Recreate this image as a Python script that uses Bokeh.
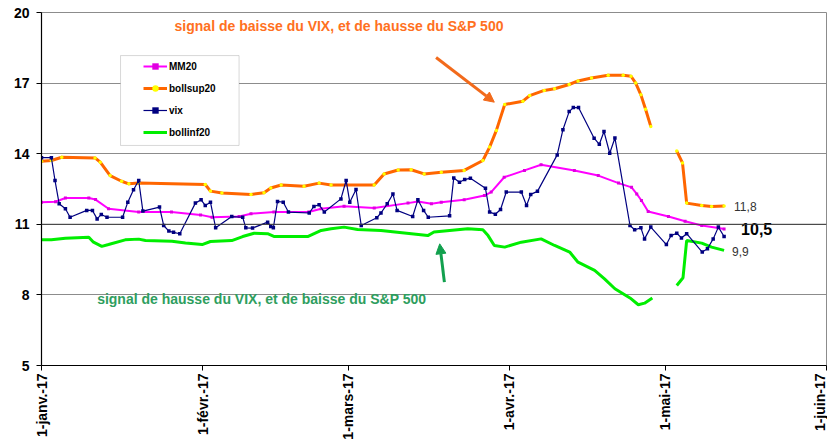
import numpy as np
from bokeh.plotting import figure
from bokeh.models import (Range1d, FixedTicker, Legend, LegendItem, Span, Arrow,
                          NormalHead, BoxAnnotation, Label)
from bokeh.core.properties import value
from bokeh.embed import file_html
from bokeh.resources import INLINE

FONT = "Liberation Sans"
nan = float("nan")

# ---- axis ticks / labels ----
month_ticks = [0, 31, 59, 90, 120, 151]
month_labels = ["1-janv.-17", "1-févr.-17", "1-mars-17", "1-avr.-17", "1-mai-17", "1-juin-17"]
y_ticks = [5, 8, 11, 14, 17, 20]

# ---- series (x = days since 1 Jan 2017) ----
vix_day = [0.0, 1.9, 2.6, 3.4, 4.6, 5.5, 8.7, 9.8, 10.7, 11.5, 12.6, 15.6, 16.6, 17.7, 18.7,
           19.5, 22.7, 23.5, 24.5, 25.4, 26.6, 29.6, 30.7, 31.5, 32.5, 33.5, 36.6, 38.7, 39.3,
           40.6, 43.5, 44.1, 44.6, 45.4, 46.5, 47.5, 51.5, 52.4, 53.4, 54.4, 57.6, 58.6, 59.3,
           60.5, 61.5, 64.5, 65.3, 66.5, 67.6, 68.4, 71.4, 72.4, 73.5, 74.4, 78.5, 79.3, 80.4,
           81.4, 82.5, 85.4, 86.2, 87.3, 88.3, 89.4, 92.3, 93.3, 94.1, 95.4, 99.2, 100.3, 101.5,
           102.3, 103.3, 106.3, 107.3, 108.2, 109.3, 110.3, 113.2, 114.1, 115.3, 116.0, 117.2,
           120.2, 121.1, 122.2, 123.1, 124.1, 127.1, 128.1, 129.2, 130.2, 131.3]
vix_val = [13.83, 13.83, 12.86, 11.87, 11.66, 11.30, 11.59, 11.59, 11.23, 11.42, 11.30, 11.30,
           11.94, 12.47, 12.86, 11.56, 11.73, 10.95, 10.71, 10.66, 10.60, 11.90, 12.04, 11.80,
           11.94, 10.85, 11.33, 11.30, 10.85, 10.84, 11.09, 10.91, 10.85, 11.97, 11.94, 11.52,
           11.48, 11.76, 11.83, 11.52, 12.08, 12.86, 11.94, 12.48, 10.95, 11.28, 11.48, 11.87,
           12.29, 11.59, 11.33, 12.04, 11.59, 11.30, 11.36, 12.97, 12.79, 12.90, 12.96, 12.53,
           11.52, 11.43, 11.63, 12.37, 12.37, 11.80, 12.27, 12.40, 13.95, 15.02, 15.79, 15.96,
           15.96, 14.66, 14.40, 14.94, 14.02, 14.67, 10.95, 10.77, 10.85, 10.38, 10.88, 10.14,
           10.52, 10.62, 10.42, 10.60, 9.82, 9.96, 10.38, 10.88, 10.48]

mm20_day = [0.0, 2.7, 4.6, 9.1, 10.4, 12.9, 18.7, 25.0, 30.6, 32.8, 38.0, 40.3, 44.7, 51.4, 53.8,
            58.2, 64.0, 70.5, 72.4, 75.0, 76.9, 81.3, 85.2, 86.5, 89.0, 92.9, 96.1, 102.5, 107.1,
            111.0, 113.5, 114.5, 115.4, 116.7, 120.6, 123.8, 127.0, 130.2, 131.3]
mm20_val = [11.94, 11.96, 12.12, 12.12, 12.05, 11.66, 11.52, 11.52, 11.40, 11.30, 11.33, 11.45,
            11.52, 11.52, 11.66, 11.77, 11.69, 11.90, 11.97, 11.87, 11.94, 12.04, 12.22, 12.37,
            13.00, 13.29, 13.53, 13.29, 13.07, 12.75, 12.57, 12.29, 12.01, 11.54, 11.33, 11.13,
            10.95, 10.84, 10.80]

bollsup_day = [0.0, 1.9, 3.9, 10.3, 11.3, 13.2, 15.4, 16.8, 18.7, 31.5, 32.5, 34.7, 40.3, 42.8,
               44.1, 46.1, 50.5, 53.4, 55.7, 64.0, 65.9, 68.6, 71.1, 73.6, 76.9, 81.3, 84.9, 86.2,
               87.5, 89.1, 92.6, 93.9, 96.7, 98.7, 101.5, 103.2, 105.8, 109.0, 111.9, 113.4,
               114.3, 115.3, 116.2, 117.2, 119.5, 122.2, 123.3, 124.1, 127.0, 128.9, 131.3]
bollsup_val = [13.68, 13.71, 13.85, 13.82, 13.64, 13.07, 12.83, 12.72, 12.75, 12.69, 12.41, 12.33,
               12.27, 12.34, 12.54, 12.67, 12.62, 12.75, 12.67, 12.67, 13.14, 13.31, 13.32, 13.14,
               13.21, 13.29, 13.71, 14.28, 14.99, 16.09, 16.23, 16.47, 16.69, 16.76, 16.94, 17.09,
               17.22, 17.33, 17.33, 17.29, 17.00, 16.50, 15.89, 15.16, nan, 14.11, 13.61, 11.90,
               11.80, 11.76, 11.78]

bollinf_day = [0.0, 1.9, 4.6, 9.1, 10.0, 11.6, 12.9, 16.1, 18.7, 20.0, 25.1, 27.7, 30.9, 32.5,
               36.6, 38.7, 40.9, 43.5, 44.8, 51.2, 53.8, 55.7, 58.2, 60.8, 65.3, 74.3, 75.5, 82.0,
               84.9, 85.9, 87.1, 89.1, 92.3, 96.1, 98.7, 101.6, 103.2, 106.4, 108.3, 110.3, 113.2,
               114.8, 116.0, 117.5, 119.5, 122.2, 123.4, 124.1, 127.0, 128.9, 131.3]
bollinf_val = [10.34, 10.34, 10.41, 10.45, 10.24, 10.06, 10.14, 10.34, 10.37, 10.31, 10.28, 10.21,
               10.14, 10.27, 10.31, 10.48, 10.62, 10.60, 10.48, 10.48, 10.74, 10.81, 10.88, 10.78,
               10.74, 10.52, 10.67, 10.81, 10.77, 10.52, 10.10, 10.03, 10.24, 10.38, 10.10, 9.82,
               9.39, 9.04, 8.68, 8.26, 7.87, 7.58, 7.65, 7.87, nan, 8.40, 8.73, 10.31, 10.20,
               10.03, 9.89]

# ---- figure ----
p = figure(width=827, height=443, output_backend="svg", toolbar_location=None,
           x_range=Range1d(0, 151), y_range=Range1d(5, 20),
           min_border_left=41, min_border_right=1, min_border_top=12, min_border_bottom=78,
           background_fill_color="white", border_fill_color="white")
p.outline_line_color = "#8C8C8C"
p.outline_line_width = 1

p.xgrid.grid_line_color = None
p.ygrid.ticker = FixedTicker(ticks=y_ticks)
p.ygrid.grid_line_color = "#8C8C8C"
p.ygrid.grid_line_width = 1
p.add_layout(Span(location=11, dimension="width", line_color="#3A3A3A", line_width=1))

p.xaxis.ticker = FixedTicker(ticks=month_ticks)
p.xaxis.major_label_overrides = {t: l for t, l in zip(month_ticks, month_labels)}
p.xaxis.major_label_orientation = np.pi / 2
p.yaxis.ticker = FixedTicker(ticks=y_ticks)
for ax in (p.xaxis, p.yaxis):
    ax.major_label_text_font = FONT
    ax.major_label_text_font_style = "bold"
    ax.major_label_text_color = "black"
    ax.axis_line_color = "black"
    ax.axis_line_width = 1.2
    ax.major_tick_line_color = "black"
    ax.major_tick_in = 0
    ax.major_tick_out = 5
    ax.minor_tick_line_color = None
p.xaxis.major_label_text_font_size = "14px"
p.yaxis.major_label_text_font_size = "14px"
p.xaxis.major_label_standoff = 3
p.yaxis.major_label_standoff = 7

# ---- series ----
l_bi = p.line(bollinf_day, bollinf_val, line_color="#00EE00", line_width=3)
l_bs = p.line(bollsup_day, bollsup_val, line_color="#FF6600", line_width=3)
s_bs = p.scatter(bollsup_day, bollsup_val, marker="circle", size=3.5,
                 fill_color="#FFFF00", line_color=None)
l_mm = p.line(mm20_day, mm20_val, line_color="#FF00FF", line_width=2)
s_mm = p.scatter(mm20_day, mm20_val, marker="square", size=3, fill_color="#E000E0",
                 line_color=None)
l_vx = p.line(vix_day, vix_val, line_color="#000080", line_width=1.2)
s_vx = p.scatter(vix_day, vix_val, marker="square", size=3.5, fill_color="#000080",
                 line_color=None)

# ---- end-of-series value labels ----
def fr(v):
    return f"{v:.1f}".replace(".", ",")

p.text(x=[bollsup_day[-1]], y=[bollsup_val[-1]], text=[fr(bollsup_val[-1])],
       x_offset=10, y_offset=1, text_font=value(FONT), text_font_size="12px",
       text_color="#333333", text_baseline="middle", text_align="left")
p.text(x=[vix_day[-1]], y=[vix_val[-1]], text=[fr(vix_val[-1])],
       x_offset=17, y_offset=-8, text_font=value(FONT), text_font_size="16px",
       text_font_style="bold", text_color="black", text_baseline="middle", text_align="left")
p.text(x=[bollinf_day[-1]], y=[bollinf_val[-1]], text=[fr(bollinf_val[-1])],
       x_offset=8, y_offset=1, text_font=value(FONT), text_font_size="12px",
       text_color="#333333", text_baseline="middle", text_align="left")

# ---- annotations ----
p.add_layout(Label(x=25.6, y=19.41, text="signal de baisse du VIX, et de  hausse du S&P 500",
                   text_font=FONT, text_font_size="14px", text_font_style="bold",
                   text_color="#FF7021", text_baseline="middle"))
p.add_layout(Label(x=10.7, y=7.82, text="signal de hausse du VIX, et de baisse du S&P 500",
                   text_font=FONT, text_font_size="14px", text_font_style="bold",
                   text_color="#2E9E5E", text_baseline="middle"))
p.add_layout(Arrow(x_start=75.9, y_start=18.09, x_end=87.1, y_end=16.19,
                   line_color="#F26A1B", line_width=3,
                   end=NormalHead(size=10, fill_color="#F26A1B", line_color="#F26A1B")))
p.add_layout(Arrow(x_start=77.5, y_start=8.54, x_end=76.6, y_end=10.17,
                   line_color="#12A04E", line_width=3,
                   end=NormalHead(size=10, fill_color="#12A04E", line_color="#12A04E")))

# ---- legend ----
p.add_layout(BoxAnnotation(left=15.2, right=38.0, top=18.17, bottom=14.35,
                           fill_color="white", fill_alpha=1.0,
                           line_color="#7F7F7F", line_width=1))
legend = Legend(items=[LegendItem(label="MM20", renderers=[l_mm, s_mm]),
                       LegendItem(label="bollsup20", renderers=[l_bs, s_bs]),
                       LegendItem(label="vix", renderers=[l_vx, s_vx]),
                       LegendItem(label="bollinf20", renderers=[l_bi])],
                location=(98, 221), padding=4, spacing=6, margin=0,
                glyph_width=24, glyph_height=16, label_height=16, label_standoff=2,
                label_text_font=FONT, label_text_font_size="10px",
                label_text_font_style="bold", label_text_color="black",
                border_line_alpha=0, background_fill_alpha=0)
p.add_layout(legend)

open("out.html", "w").write(file_html(p, INLINE))
